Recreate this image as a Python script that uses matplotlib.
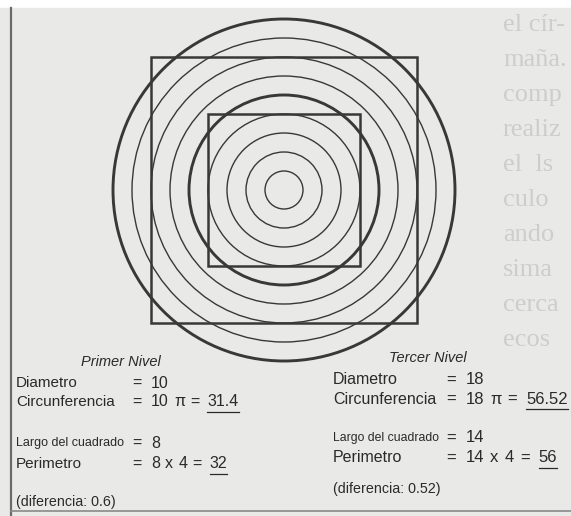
import matplotlib
matplotlib.use('Agg')
import matplotlib.pyplot as plt
from matplotlib.patches import Circle, Rectangle

# circulos concentricos (radio en unidades), los gruesos son el 5 y el 9
radios = [1, 2, 3, 4, 5, 6, 7, 8, 9]
radios_gruesos = [5, 9]
# lados de los cuadrados
lados = [8, 14]

# datos de las dos tablas
niveles = ['Primer Nivel', 'Tercer Nivel']
diametros = [10, 18]
circunf = ['31.4', '56.52']
largos = [8, 14]
perimetros = [32, 56]
diferencias = ['0.6', '0.52']

# texto del libro que se ve detras (columna derecha)
fondo = ['el cír-', 'maña.', 'comp', 'realiz', 'el  ls', 'culo',
         'ando', 'sima', 'cerca', 'ecos']

W, H = 571, 516
unidad = 19.0
cx, cy = 284, 190
gris = '#383838'

plt.rcParams['font.family'] = ['Liberation Sans', 'DejaVu Sans']
fig = plt.figure(figsize=(W / 100, H / 100), dpi=100)
fig.patch.set_facecolor('white')
ax = fig.add_axes([0, 0, 1, 1])
ax.set_xlim(0, W)
ax.set_ylim(H, 0)
ax.axis('off')

# hoja escaneada
ax.add_patch(Rectangle((0, 8), W, H - 8, color='#e9e9e7', zorder=0))
ax.plot([11, 11], [8, H], color='#6a6a6a', lw=1.6, zorder=1)
ax.plot([11, W], [511, 511], color='#8a8a8a', lw=1.2, zorder=1)

for i, s in enumerate(fondo):
    ax.text(503, 25 + 35 * i, s, fontsize=19, family='Liberation Serif',
            color='#cdcdcb', va='center', ha='left', zorder=1, clip_on=True)

# circulos
for r in radios:
    lw = 2.1 if r in radios_gruesos else 1.0
    ax.add_patch(Circle((cx, cy), r * unidad, fill=False, ec=gris, lw=lw, zorder=3))

# cuadrados
for l in lados:
    m = l * unidad / 2
    ax.add_patch(Rectangle((cx - m, cy - m), 2 * m, 2 * m, fill=False,
                           ec=gris, lw=1.8, zorder=3))

fig.canvas.draw()
rend = fig.canvas.get_renderer()
inv = ax.transData.inverted()
tc = '#2a2a2a'


def fila(x, y, partes, g1, gap, fs, sub=False):
    # escribe los trozos uno tras otro, el ultimo subrayado si sub
    for j, p in enumerate(partes):
        t = ax.text(x, y, p, fontsize=fs, va='center', color=tc)
        bb = t.get_window_extent(rend)
        x1 = inv.transform((bb.x1, bb.y0))[0]
        if sub and j == len(partes) - 1:
            ax.plot([x, x1], [y + fs * 0.85, y + fs * 0.85], color=tc, lw=0.9)
        x = x1 + (g1 if j == 0 else gap)
        if j == len(partes) - 2 and sub:
            x += 3


# tablas
col_x = [16, 333]
eq_x = [132, 446]
niv_x = [121, 428]
niv_y = [362, 358]
filas = [[383, 402, 443, 464, 502], [380, 399, 438, 458, 489]]
fs_lab = [11, 11.5]
fs_num = [11.5, 12]
fs_small = [9, 8.8]
g1s = [10, 10]
gaps = [5, 6]
for k in range(2):
    x0, xe = col_x[k], eq_x[k]
    y = filas[k]
    fs, fn, g1, g = fs_lab[k], fs_num[k], g1s[k], gaps[k]
    ax.text(niv_x[k], niv_y[k], niveles[k], style='italic', fontsize=10.5,
            ha='center', va='center', color=tc)
    ax.text(x0, y[0], 'Diametro', fontsize=fs, va='center', color=tc)
    fila(xe, y[0], ['=', str(diametros[k])], g1, g, fn)
    ax.text(x0, y[1], 'Circunferencia', fontsize=fs, va='center', color=tc)
    fila(xe, y[1], ['=', str(diametros[k]), 'π', '=', circunf[k]], g1, g, fn, sub=True)
    ax.text(x0, y[2], 'Largo del cuadrado', fontsize=fs_small[k], va='center', color=tc)
    fila(xe, y[2], ['=', str(largos[k])], g1, g, fn)
    ax.text(x0, y[3], 'Perimetro', fontsize=fs, va='center', color=tc)
    fila(xe, y[3], ['=', str(largos[k]), 'x', '4', '=', str(perimetros[k])], g1, g, fn, sub=True)
    ax.text(x0, y[4], '(diferencia: %s)' % diferencias[k], fontsize=10.3,
            va='center', color=tc)

fig.savefig('out.png', dpi=100)
